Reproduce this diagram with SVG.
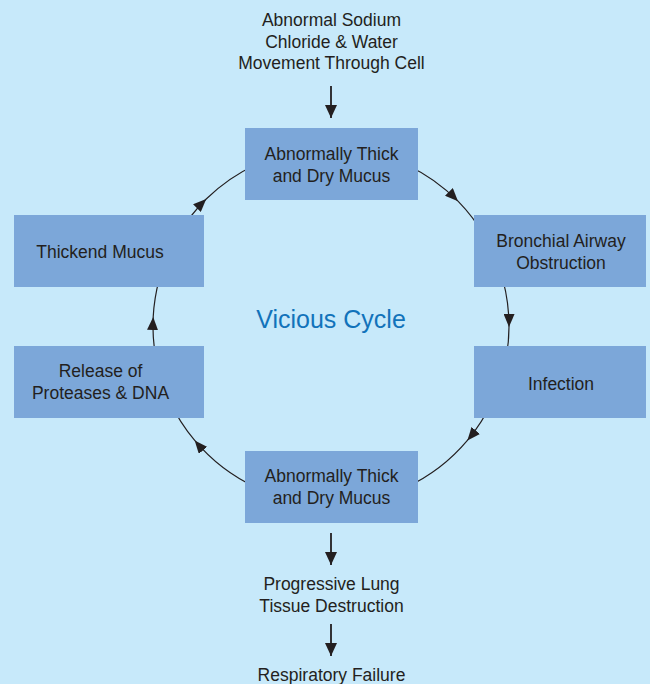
<svg xmlns="http://www.w3.org/2000/svg" width="650" height="684" viewBox="0 0 650 684">
<style>
.bg{fill:#C7E9FA}
.box{fill:#7CA7D9}
.t{font-family:"Liberation Sans",Arial,sans-serif;font-size:17.5px;fill:#231F20;text-anchor:middle}
.title{font-family:"Liberation Sans",Arial,sans-serif;font-size:25px;fill:#1273BA;text-anchor:middle}
.arc{fill:none;stroke:#231F20;stroke-width:1.2}
.str{fill:none;stroke:#231F20;stroke-width:1.8}
</style>
<defs>
<marker id="ah" viewBox="0 0 13 11" refX="13" refY="5.5" markerWidth="13" markerHeight="11" markerUnits="userSpaceOnUse" orient="auto">
<path d="M0,0 L13,5.5 L0,11 Z" fill="#231F20"/>
</marker>
<marker id="ahs" viewBox="0 0 13 12" refX="13" refY="6" markerWidth="13" markerHeight="12" markerUnits="userSpaceOnUse" orient="auto">
<path d="M0,0 L13,6 L0,12 Z" fill="#231F20"/>
</marker>
</defs>
<rect class="bg" x="0" y="0" width="650" height="684"/>
<g id="connectors">
<path class="arc" marker-mid="url(#ah)" d="M406.2,164.7 A178,178 0 0 1 458.0,201.2 A178,178 0 0 1 485.1,237"/>
<path class="arc" marker-mid="url(#ah)" d="M502.9,279.9 A178,178 0 0 1 509,327 A178,178 0 0 1 506.3,356.9"/>
<path class="arc" marker-mid="url(#ah)" d="M492.3,401.2 A178,178 0 0 1 467.4,440.4 A178,178 0 0 1 406.2,487.3"/>
<path class="arc" marker-mid="url(#ah)" d="M255.8,487.3 A178,178 0 0 1 194.7,440.4 A178,178 0 0 1 169.7,401.2"/>
<path class="arc" marker-mid="url(#ah)" d="M155.7,356.9 A178,178 0 0 1 153.2,317 A178,178 0 0 1 159.1,279.9"/>
<path class="arc" marker-mid="url(#ah)" d="M176.9,237 A178,178 0 0 1 206.2,199.0 A178,178 0 0 1 255.8,164.7"/>
<path class="str" marker-end="url(#ahs)" d="M331,86 L331,118"/>
<path class="str" marker-end="url(#ahs)" d="M331,533 L331,565"/>
<path class="str" marker-end="url(#ahs)" d="M331,624 L331,656"/>
</g>
<g id="start">
<text class="t" x="331.5" y="26">Abnormal Sodium</text>
<text class="t" x="331.5" y="47.5">Chloride &amp; Water</text>
<text class="t" x="331.5" y="69">Movement Through Cell</text>
</g>
<g id="top-mucus">
<rect class="box" x="245" y="128" width="173" height="72"/>
<text class="t" x="331.5" y="160">Abnormally Thick</text>
<text class="t" x="331.5" y="182">and Dry Mucus</text>
</g>
<g id="bronchial">
<rect class="box" x="474" y="215" width="172" height="72"/>
<text class="t" x="561" y="247">Bronchial Airway</text>
<text class="t" x="561" y="268.5">Obstruction</text>
</g>
<g id="infection">
<rect class="box" x="474" y="346" width="172" height="72"/>
<text class="t" x="561" y="390">Infection</text>
</g>
<g id="bottom-mucus">
<rect class="box" x="245" y="451" width="173" height="72"/>
<text class="t" x="331.5" y="482">Abnormally Thick</text>
<text class="t" x="331.5" y="503.5">and Dry Mucus</text>
</g>
<g id="release">
<rect class="box" x="14" y="346" width="190" height="72"/>
<text class="t" x="100.5" y="377">Release of</text>
<text class="t" x="100.5" y="399">Proteases &amp; DNA</text>
</g>
<g id="thickend">
<rect class="box" x="14" y="215" width="190" height="72"/>
<text class="t" x="100" y="258">Thickend Mucus</text>
</g>
<g id="center-label">
<text class="title" x="331" y="328">Vicious Cycle</text>
</g>
<g id="progressive">
<text class="t" x="331.5" y="590">Progressive Lung</text>
<text class="t" x="331.5" y="612">Tissue Destruction</text>
</g>
<g id="failure">
<text class="t" x="331.5" y="681">Respiratory Failure</text>
</g>
</svg>
